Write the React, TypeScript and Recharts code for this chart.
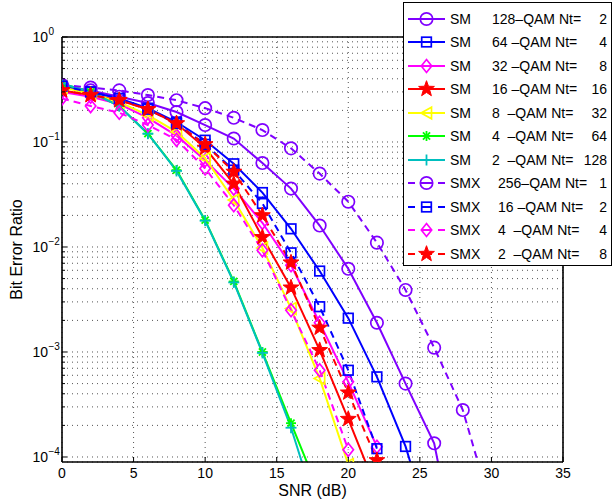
import React from 'react';
import { LineChart, Line, XAxis, YAxis, CartesianGrid, ReferenceLine, Legend, Label } from 'recharts';

// ---- data ----
const snr = [0, 2, 4, 6, 8, 10, 12, 14, 16, 18, 20, 22, 24, 26, 28, 30];

const sm128 = [0.34, 0.31, 0.27, 0.235, 0.193, 0.145, 0.108, 0.063, 0.036, 0.016, 0.0062, 0.0019, 5.0e-4, 1.35e-4, 6e-6];
const sm64 = [0.34, 0.30, 0.26, 0.21, 0.155, 0.104, 0.062, 0.033, 0.0149, 0.0059, 0.0021, 5.8e-4, 1.26e-4, 1.6e-5];
const sm32 = [0.30, 0.27, 0.23, 0.17, 0.115, 0.067, 0.036, 0.017, 0.0067, 0.0019, 5.2e-4, 1.25e-4];
const sm16 = [0.31, 0.28, 0.25, 0.205, 0.15, 0.088, 0.040, 0.0124, 0.0041, 0.00104, 2.3e-4, 4.8e-5];
const sm8 = [0.33, 0.29, 0.24, 0.18, 0.125, 0.07, 0.028, 0.0098, 0.0026, 5.6e-4, 8.5e-5];
const sm4 = [0.36, 0.30, 0.22, 0.12, 0.054, 0.018, 0.0047, 0.001, 2.1e-4, 4.5e-5];
const sm2 = [0.36, 0.30, 0.22, 0.12, 0.053, 0.0178, 0.0046, 0.00098, 1.9e-4, 2.6e-5];
const smx256 = [0.35, 0.33, 0.31, 0.28, 0.25, 0.21, 0.17, 0.13, 0.087, 0.05, 0.027, 0.011, 0.0039, 0.0011, 2.8e-4, 3.2e-5];
const smx16 = [0.34, 0.30, 0.26, 0.205, 0.15, 0.095, 0.054, 0.026, 0.0088, 0.0027, 6.7e-4, 1.2e-4];
const smx4 = [0.26, 0.22, 0.19, 0.145, 0.105, 0.056, 0.025, 0.0093, 0.0025, 6.7e-4, 1.17e-4];
const smx2 = [0.31, 0.28, 0.25, 0.205, 0.15, 0.095, 0.052, 0.020, 0.0071, 0.0017, 4.1e-4, 9.3e-5];

const schemeNames = ['SM', 'SM', 'SM', 'SM', 'SM', 'SM', 'SM', 'SMX', 'SMX', 'SMX', 'SMX'];
const qamLabels = ['128–QAM Nt=', '64 –QAM Nt=', '32 –QAM Nt=', '16 –QAM Nt=', '8  –QAM Nt=', '4  –QAM Nt=', '2  –QAM Nt=', '256–QAM Nt=', '16 –QAM Nt=', '4  –QAM Nt=', '2  –QAM Nt='];
const ntLabels = ['2', '4', '8', '16', '32', '64', '128', '1', '2', '4', '8'];

const xTicks = [0, 5, 10, 15, 20, 25, 30, 35];
const yMajorTicks = [1e-4, 1e-3, 1e-2, 1e-1, 1];

// ---- styles ----
const seriesValues = [sm128, sm64, sm32, sm16, sm8, sm4, sm2, smx256, smx16, smx4, smx2];
const colors = ['#7f00ff', '#0000ff', '#ff00ff', '#ff0000', '#ffff00', '#00ff00', '#00bfbf', '#7f00ff', '#0000ff', '#ff00ff', '#ff0000'];
const markers = ['circle', 'square', 'diamond', 'star', 'triangleLeft', 'asterisk', 'plus', 'circle', 'square', 'diamond', 'star'];
const dashed = [false, false, false, false, false, false, false, true, true, true, true];

const FONT = '"Liberation Sans", Arial, Helvetica, sans-serif';

const yTicks: number[] = [];
yMajorTicks.forEach((m, i) => {
  yTicks.push(m);
  if (i < yMajorTicks.length - 1) {
    for (let k = 2; k <= 9; k++) yTicks.push(m * k);
  }
});

const tableData = snr.map((s, i) => {
  const row: any = { snr: s };
  seriesValues.forEach((arr, k) => {
    if (i < arr.length) row['s' + k] = arr[i];
  });
  return row;
});

function starPoints(cx: number, cy: number, R: number, r: number) {
  const pts: string[] = [];
  for (let i = 0; i < 10; i++) {
    const ang = -Math.PI / 2 + (i * Math.PI) / 5;
    const rad = i % 2 === 0 ? R : r;
    pts.push(`${cx + rad * Math.cos(ang)},${cy + rad * Math.sin(ang)}`);
  }
  return pts.join(' ');
}

function Marker({ kind, cx, cy, color }: { kind: string; cx: number; cy: number; color: string }) {
  const sw = 1.7;
  switch (kind) {
    case 'circle':
      return <circle cx={cx} cy={cy} r={6.2} fill="none" stroke={color} strokeWidth={sw} />;
    case 'square':
      return <rect x={cx - 4.8} y={cy - 4.8} width={9.6} height={9.6} fill="none" stroke={color} strokeWidth={sw} />;
    case 'diamond':
      return <polygon points={`${cx},${cy - 6.5} ${cx + 5.2},${cy} ${cx},${cy + 6.5} ${cx - 5.2},${cy}`} fill="none" stroke={color} strokeWidth={sw} />;
    case 'star':
      return <polygon points={starPoints(cx, cy, 8.3, 3.4)} fill={color} stroke={color} strokeWidth={1} />;
    case 'triangleLeft':
      return <polygon points={`${cx - 5.5},${cy} ${cx + 5},${cy - 5.8} ${cx + 5},${cy + 5.8}`} fill="none" stroke={color} strokeWidth={sw} />;
    case 'asterisk': {
      const r = 5;
      const d = r * 0.7071;
      return (
        <g stroke={color} strokeWidth={1.8}>
          <line x1={cx - r} y1={cy} x2={cx + r} y2={cy} />
          <line x1={cx} y1={cy - r} x2={cx} y2={cy + r} />
          <line x1={cx - d} y1={cy - d} x2={cx + d} y2={cy + d} />
          <line x1={cx - d} y1={cy + d} x2={cx + d} y2={cy - d} />
        </g>
      );
    }
    case 'plus': {
      const r = 5.5;
      return (
        <g stroke={color} strokeWidth={1.8}>
          <line x1={cx - r} y1={cy} x2={cx + r} y2={cy} />
          <line x1={cx} y1={cy - r} x2={cx} y2={cy + r} />
        </g>
      );
    }
    default:
      return null;
  }
}

const YTick = (props: any) => {
  const { x, y, payload } = props;
  const v = payload.value as number;
  const lg = Math.log10(v);
  const e = Math.round(lg);
  const major = Math.abs(lg - e) < 1e-6;
  const ax = x + 14;
  return (
    <g>
      <line x1={ax} x2={ax + (major ? 5 : 3)} y1={y} y2={y} stroke="#000" strokeWidth={1} />
      {major && (
        <g fontFamily={FONT} fill="#000">
          <text x={x} y={y + 5} textAnchor="end" fontSize={14}>10</text>
          <text x={x + 0.5} y={y - 2} textAnchor="start" fontSize={10}>{e < 0 ? '\u2212' + Math.abs(e) : String(e)}</text>
        </g>
      )}
    </g>
  );
};

const XTick = (props: any) => {
  const { x, y, payload } = props;
  return (
    <g>
      <line x1={x} x2={x} y1={y - 6} y2={y - 11} stroke="#000" strokeWidth={1} />
      <text x={x} y={y + 10} textAnchor="middle" fontSize={14} fontFamily={FONT} fill="#000">{payload.value}</text>
    </g>
  );
};

const LegendBox = () => (
  <div
    style={{
      position: 'relative',
      width: 209,
      height: 264,
      boxSizing: 'border-box',
      border: '1px solid #000',
      background: '#fff',
      fontFamily: FONT,
      fontSize: 14,
      color: '#000',
    }}
  >
    {schemeNames.map((name, i) => {
      const top = 16 + i * 23.45 - 10;
      const c = colors[i];
      return (
        <div key={i} style={{ position: 'absolute', left: 0, right: 0, top, height: 20, lineHeight: '20px', whiteSpace: 'pre' }}>
          <svg width={37} height={20} style={{ position: 'absolute', left: 4, top: 0, overflow: 'visible' }}>
            {dashed[i] ? (
              <g stroke={c} strokeWidth={2}>
                <line x1={0} y1={10} x2={7} y2={10} />
                <line x1={13} y1={10} x2={24} y2={10} />
                <line x1={30} y1={10} x2={37} y2={10} />
              </g>
            ) : (
              <line x1={0} y1={10} x2={37} y2={10} stroke={c} strokeWidth={2} />
            )}
            <Marker kind={markers[i]} cx={18.5} cy={10} color={c} />
          </svg>
          <span style={{ position: 'absolute', left: 46 }}>{name}</span>
          <span style={{ position: 'absolute', left: name === 'SM' ? 88 : 94 }}>{qamLabels[i]}</span>
          <span style={{ position: 'absolute', right: 4 }}>{ntLabels[i]}</span>
        </div>
      );
    })}
  </div>
);

export default function App() {
  return (
    <div style={{ position: 'absolute', left: 0, top: 0, width: 614, height: 501, background: '#fff' }}>
      <LineChart width={614} height={501} data={tableData} margin={{ top: 37, right: 51, left: 0, bottom: 0 }}>
        <CartesianGrid stroke="#555" strokeWidth={1} strokeDasharray="1 4" />
        <XAxis
          dataKey="snr"
          type="number"
          domain={[0, 35]}
          ticks={xTicks}
          interval={0}
          tickSize={0}
          tickMargin={6}
          tickLine={false}
          tick={<XTick />}
          axisLine={{ stroke: '#000', strokeWidth: 1.6 }}
          height={39}
          allowDataOverflow
        >
          <Label
            content={(p: any) => {
              const vb = p.viewBox;
              return (
                <text x={vb.x + vb.width / 2} y={vb.y + 34} textAnchor="middle" fontSize={16} fontFamily={FONT} fill="#000">
                  SNR (dB)
                </text>
              );
            }}
          />
        </XAxis>
        <YAxis
          type="number"
          scale="log"
          domain={[8.96e-5, 1]}
          allowDataOverflow
          ticks={yTicks}
          interval={0}
          tickSize={0}
          tickMargin={14}
          tickLine={false}
          tick={<YTick />}
          axisLine={{ stroke: '#000', strokeWidth: 1.6 }}
          width={62}
        >
          <Label
            content={(p: any) => {
              const vb = p.viewBox;
              const cx = vb.x + 22;
              const cy = vb.y + vb.height / 2;
              return (
                <text x={cx} y={cy} transform={`rotate(-90 ${cx} ${cy})`} textAnchor="middle" fontSize={16} fontFamily={FONT} fill="#000">
                  Bit Error Ratio
                </text>
              );
            }}
          />
        </YAxis>
        <ReferenceLine y={1} stroke="#000" strokeWidth={1.6} />
        <ReferenceLine x={35} stroke="#000" strokeWidth={1.6} />
        {seriesValues.map((_, k) => (
          <Line
            key={k}
            dataKey={'s' + k}
            type="linear"
            stroke={colors[k]}
            strokeWidth={2}
            strokeDasharray={dashed[k] ? '7 5' : undefined}
            isAnimationActive={false}
            activeDot={false}
            legendType="none"
            dot={(p: any) => {
              if (p.cx == null || p.cy == null || p.value == null) return <g key={`d${k}-${p.index}`} />;
              return (
                <g key={`d${k}-${p.index}`}>
                  <Marker kind={markers[k]} cx={p.cx} cy={p.cy} color={colors[k]} />
                </g>
              );
            }}
          />
        ))}
        <Legend
          layout="vertical"
          align="center"
          verticalAlign="middle"
          content={() => <LegendBox />}
          wrapperStyle={{ left: 403, top: 2, width: 209, height: 264 }}
        />
      </LineChart>
    </div>
  );
}
